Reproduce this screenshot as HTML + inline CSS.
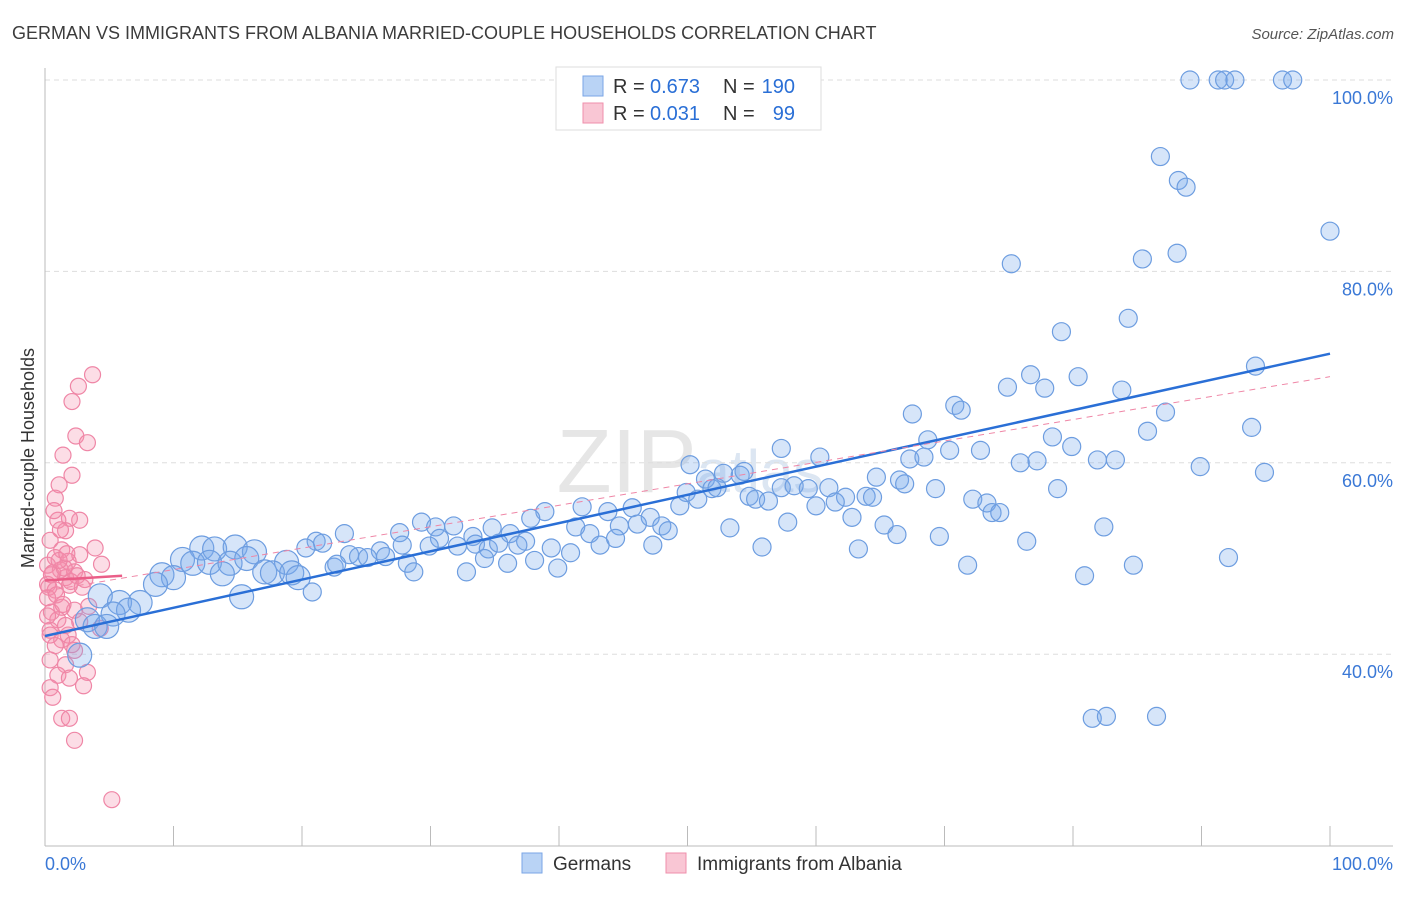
<!DOCTYPE html>
<html><head><meta charset="utf-8"><style>
body{margin:0;background:#fff;font-family:"Liberation Sans",sans-serif;}
svg text{font-family:"Liberation Sans",sans-serif;}
</style></head><body>
<svg id="chart" width="1406" height="892" viewBox="0 0 1406 892" xmlns="http://www.w3.org/2000/svg">
<text x="12" y="39" font-size="18" fill="#3c3c3c">GERMAN VS IMMIGRANTS FROM ALBANIA MARRIED-COUPLE HOUSEHOLDS CORRELATION CHART</text>
<text x="1394" y="39" font-size="15" fill="#555" font-style="italic" text-anchor="end">Source: ZipAtlas.com</text>
<text x="690" y="492" font-size="90" fill="#e6e6e6" text-anchor="middle" font-family="Liberation Serif">ZIP<tspan font-size="60" font-family="Liberation Sans" fill="#dce6f2">atlas</tspan></text>
<text transform="translate(34,458) rotate(-90)" font-size="18" fill="#333" text-anchor="middle">Married-couple Households</text>
<g id="grid"></g><g id="axes"></g><g id="pts"></g><g id="lines"></g>
<g>
<rect x="556" y="67" width="265" height="63" fill="#fff" stroke="#ddd"/>
<rect x="583" y="76" width="20" height="20" fill="#b9d3f5" stroke="#7aa6e6"/>
<rect x="583" y="103" width="20" height="20" fill="#f9c6d4" stroke="#ef8fab"/>
<text x="613" y="93" font-size="20" fill="#333">R =</text>
<text x="650" y="93" font-size="20" fill="#2a6fd6">0.673</text>
<text x="723" y="93" font-size="20" fill="#333">N =</text>
<text x="795" y="93" font-size="20" fill="#2a6fd6" text-anchor="end">190</text>
<text x="613" y="120" font-size="20" fill="#333">R =</text>
<text x="650" y="120" font-size="20" fill="#2a6fd6">0.031</text>
<text x="723" y="120" font-size="20" fill="#333">N =</text>
<text x="795" y="120" font-size="20" fill="#2a6fd6" text-anchor="end">99</text>
</g>
<g>
<rect x="522" y="853" width="20" height="20" fill="#b9d3f5" stroke="#7aa6e6"/>
<text x="553" y="870" font-size="19" fill="#333">Germans</text>
<rect x="666" y="853" width="20" height="20" fill="#f9c6d4" stroke="#ef8fab"/>
<text x="697" y="870" font-size="19" fill="#333">Immigrants from Albania</text>
</g>
</svg>
<script>
const blueX=[89.1,91.3,91.8,92.6,96.3,97.1,86.8,88.2,88.8,100,75.2,85.4,88.1,84.3,79.1,94.2,76.7,74.9,77.8,80.4,83.8,70.8,71.3,67.5,87.2,85.8,93.9,68.7,78.4,79.9,57.3,70.4,72.8,67.3,68.4,60.3,50.2,75.9,77.2,81.9,83.3,89.9,94.9,51.4,52.8,54.1,54.4,64.7,66.5,66.9,51.9,52.3,57.3,58.3,59.4,61.0,62.3,69.3,78.8,49.9,50.8,54.8,55.3,56.3,60.0,61.5,63.9,64.4,72.2,73.3,73.7,74.3,45.7,41.8,43.8,38.9,47.1,49.4,57.8,62.8,65.3,41.3,44.7,46.1,48.0,48.5,53.3,66.3,82.4,69.6,76.4,42.4,43.2,44.4,47.3,39.4,40.9,38.1,39.9,55.8,63.3,92.1,71.8,84.7,80.9,29.3,30.4,31.8,34.8,37.8,30.7,33.3,36.2,37.4,27.6,23.3,21.1,21.6,27.8,29.9,32.1,33.5,34.5,35.3,36.8,20.3,26.1,23.7,24.4,25.1,26.5,22.5,28.2,34.2,28.7,32.8,36.0,18.8,22.7,12.2,13.2,14.8,16.3,10.7,11.5,12.8,14.4,15.7,9.1,10.0,8.6,13.8,17.1,17.7,19.2,19.7,20.8,15.3,4.3,5.8,7.4,6.5,5.3,3.3,3.9,4.8,2.7,81.5,82.6,86.5];
const blueY=[100,100,100,100,100,100,92.0,89.5,88.8,84.2,80.8,81.3,81.9,75.1,73.7,70.1,69.2,67.9,67.8,69.0,67.6,66.0,65.5,65.1,65.3,63.3,63.7,62.4,62.7,61.7,61.5,61.3,61.3,60.4,60.6,60.6,59.8,60.0,60.2,60.3,60.3,59.6,59.0,58.3,58.9,58.7,59.1,58.5,58.2,57.8,57.3,57.4,57.4,57.6,57.3,57.4,56.4,57.3,57.3,56.9,56.2,56.5,56.2,56.0,55.5,55.9,56.5,56.4,56.2,55.8,54.8,54.8,55.3,55.4,54.9,54.9,54.3,55.5,53.8,54.3,53.5,53.3,53.4,53.6,53.4,52.9,53.2,52.5,53.3,52.3,51.8,52.6,51.4,52.1,51.4,51.1,50.6,49.8,49.0,51.2,51.0,50.1,49.3,49.3,48.2,53.8,53.3,53.4,53.2,54.2,52.1,52.3,52.6,51.8,52.7,52.6,51.8,51.6,51.4,51.3,51.3,51.5,51.0,51.6,51.4,51.1,50.8,50.4,50.2,50.1,50.2,49.1,49.5,50.0,48.6,48.6,49.5,49.6,49.4,51.1,51.0,51.2,50.7,49.9,49.5,49.6,49.5,50.0,48.3,48.0,47.3,48.4,48.6,48.5,48.5,48.0,46.5,46.0,46.1,45.4,45.4,44.6,44.2,43.6,42.9,42.9,39.9,33.3,33.5,33.5];
const pinkX=[3.7,2.6,2.1,2.4,3.3,1.4,2.1,1.1,0.8,2.7,1.9,1.0,3.9,1.6,0.4,1.3,2.7,0.8,4.4,1.8,0.2,1.2,2.3,0.5,1.6,3.1,0.2,1.9,0.8,0.2,1.3,2.3,0.5,1.0,2.7,4.3,0.4,1.8,1.3,0.8,2.3,0.4,1.6,3.3,1.0,1.9,3.0,0.4,0.6,1.3,1.9,2.3,5.2,0.6,1.5,2.0,0.3,1.1,1.7,2.5,0.9,1.4,0.2,2.1,3.4,1.2,0.7,2.9,1.6,0.4];
const pinkY=[69.2,68.0,66.4,62.8,62.1,60.8,58.7,57.7,56.3,54.0,54.2,54.0,51.1,52.9,51.9,50.9,50.4,50.1,49.4,49.7,49.3,48.8,48.6,48.3,48.0,47.8,47.3,47.2,46.7,45.9,44.9,44.6,44.4,43.6,43.4,42.7,42.5,42.0,41.5,40.9,40.4,39.4,38.9,38.1,37.8,37.5,36.7,36.5,35.5,33.3,33.3,31.0,24.8,48.5,49.0,47.6,47.0,49.8,50.5,48.2,46.2,45.2,44.0,41.0,45.0,53.0,55.0,47.0,43.0,42.0];
const yTicks=[40,60,80,100];
const blueTrend=[41.9,71.4], pinkTrend=[47.7,48.2], pinkDash=[46.6,69.0];
const X=v=>45+v*12.85, Y=v=>1037-v*9.57;
const ns="http://www.w3.org/2000/svg";
function mk(p,t,a){const e=document.createElementNS(ns,t);for(const k in a)e.setAttribute(k,a[k]);document.getElementById(p).appendChild(e);return e;}
yTicks.forEach(t=>{
 const g=mk('grid','line',{x1:45,x2:1393,y1:Y(t),y2:Y(t),stroke:'#ddd','stroke-dasharray':'5,4'});
 
 
 const l=mk('axes','text',{x:1393,y:Y(t)+24,'font-size':18,fill:'#3a78d6','text-anchor':'end'});l.textContent=t.toFixed(1)+'%';
 
 
});
const ax=mk('axes','line',{x1:45,x2:45,y1:68,y2:846,stroke:'#bbb'});


const bx=mk('axes','line',{x1:45,x2:1393,y1:846,y2:846,stroke:'#bbb'});


for(let i=1;i<=10;i++){const t=mk('axes','line',{x1:45+i*128.5,x2:45+i*128.5,y1:826,y2:846,stroke:'#bbb'});
 
 }
[['0.0%',45,'start'],['100.0%',1393,'end']].forEach(([s,x,a])=>{const t=mk('axes','text',{x:x,y:870,'font-size':18,fill:'#3a78d6','text-anchor':a});t.textContent=s;
 
 });
pinkX.forEach((v,i)=>{const c=mk('pts','circle',{cx:X(v),cy:Y(pinkY[i]),r:8,fill:'rgba(244,143,172,0.3)',stroke:'#ef86a6','stroke-width':1.2});
 
 });
blueX.forEach((v,i)=>{const r=v<20?12:9;const c=mk('pts','circle',{cx:X(v),cy:Y(blueY[i]),r:r,fill:'rgba(120,168,235,0.3)',stroke:'#6d9de0','stroke-width':1.2});
 
 });
const l1=mk('lines','line',{x1:X(0),y1:Y(blueTrend[0]),x2:X(100),y2:Y(blueTrend[1]),stroke:'#2a6fd6','stroke-width':2.5});


const l2=mk('lines','line',{x1:X(0),y1:Y(pinkDash[0]),x2:X(100),y2:Y(pinkDash[1]),stroke:'#ef86a6','stroke-width':1,'stroke-dasharray':'6,5'});


const l3=mk('lines','line',{x1:X(0),y1:Y(pinkTrend[0]),x2:X(6),y2:Y(pinkTrend[1]),stroke:'#ea5e88','stroke-width':2.5});


</script>
</body></html>
